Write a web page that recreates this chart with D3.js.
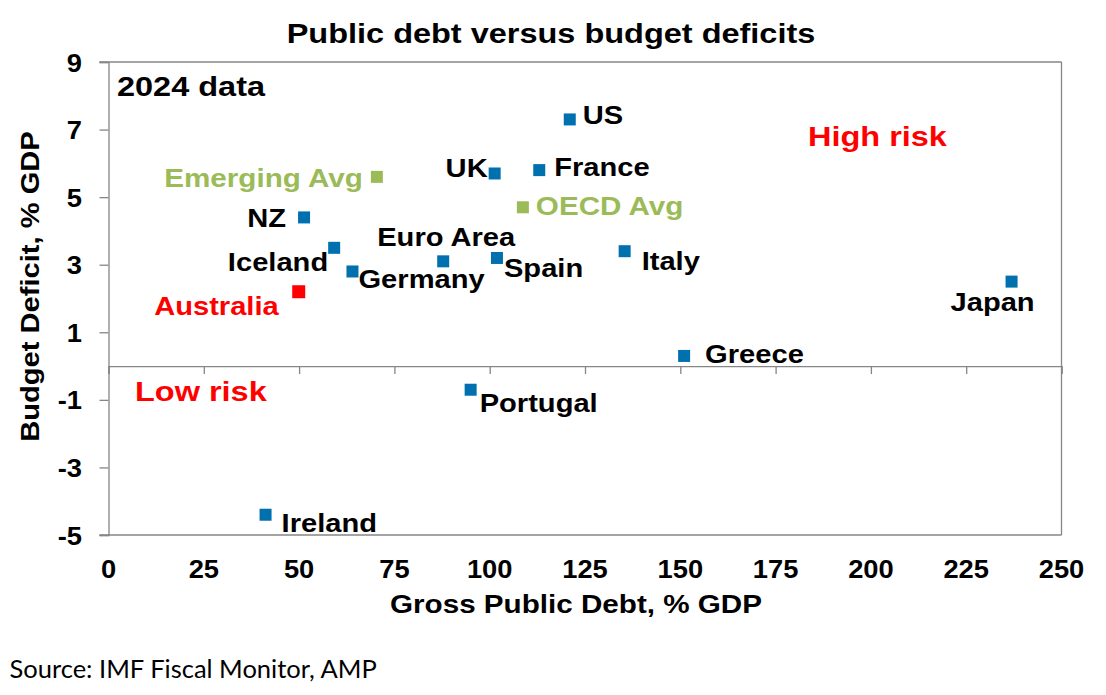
<!DOCTYPE html>
<html>
<head>
<meta charset="utf-8">
<script src="https://cdn.jsdelivr.net/npm/d3@7/dist/d3.min.js"></script>
<style>
  html, body { margin: 0; padding: 0; background: #fff; }
  svg { display: block; }
  text { font-family: "Liberation Sans", Arial, sans-serif; }
</style>
</head>
<body>
<svg id="chart" width="1106" height="695"></svg>
<script>
// ---- Data ----
const countries = ["US", "France", "UK", "OECD Avg", "Italy", "Spain", "Euro Area", "Japan",
                   "Greece", "Iceland", "Germany", "Australia", "Portugal", "NZ", "Emerging Avg", "Ireland"];
const grossDebt = [121, 113, 101.3, 108.7, 135.4, 101.9, 87.8, 236.9,
                   151, 59.2, 64, 49.9, 95, 51.3, 70.4, 41.2];
const budgetDeficit = [7.3, 5.8, 5.7, 4.7, 3.4, 3.2, 3.1, 2.5,
                       0.3, 3.5, 2.8, 2.2, -0.7, 4.4, 5.6, -4.4];
const groups = ["country", "country", "country", "average", "country", "country", "country", "country",
                "country", "country", "country", "australia", "country", "country", "average", "country"];
const xTicks = [0, 25, 50, 75, 100, 125, 150, 175, 200, 225, 250];
const yTicks = [-5, -3, -1, 1, 3, 5, 7, 9];

const chartTitle = "Public debt versus budget deficits";
const xTitle = "Gross Public Debt, % GDP";
const yTitle = "Budget Deficit, % GDP";
const sourceText = "Source: IMF Fiscal Monitor, AMP";

// ---- Styling / label placement ----
const colors = { country: "#0070AE", average: "#9BBB59", australia: "#FF0000" };
const labelColors = { country: "#000", average: "#9BBB59", australia: "#FF0000" };
const labelPos = {
  "US": ["start", 13, 5], "France": ["start", 15, 6], "UK": ["end", -7, 4],
  "OECD Avg": ["start", 13, 8], "Italy": ["start", 17, 19], "Spain": ["start", 7, 19],
  "Euro Area": ["middle", 3, -15], "Japan": ["middle", -19, 29], "Greece": ["start", 21, 7],
  "Iceland": ["end", -6, 23], "Germany": ["start", 6, 17], "Australia": ["end", -20, 23],
  "Portugal": ["start", 9, 22], "NZ": ["end", -18, 10], "Emerging Avg": ["end", -14, 10],
  "Ireland": ["start", 16, 17.5]
};

const svg = d3.select("#chart");
const pLeft = 108.5, pRight = 1061.5, pTop = 62, pBottom = 535;
const x = d3.scaleLinear().domain([0, 250]).range([pLeft, pRight]);
const y = d3.scaleLinear().domain([-5, 9]).range([pBottom, pTop]);
const axisColor = "#868686";

function stretchedText(g, tx, ty, str, opts) {
  const sx = opts.sx || 1.12;
  const rot = opts.rotate ? ` rotate(${opts.rotate})` : "";
  return g.append("text")
    .attr("transform", `translate(${tx},${ty})${rot} scale(${sx},1)`)
    .attr("text-anchor", opts.anchor || "start")
    .attr("font-size", opts.size || 26)
    .attr("font-weight", opts.weight || "bold")
    .attr("fill", opts.fill || "#000")
    .style("font-family", opts.family || null)
    .text(str);
}

// Plot frame
svg.append("line").attr("x1", pLeft - 9).attr("x2", pRight).attr("y1", pTop).attr("y2", pTop)
  .attr("stroke", axisColor).attr("stroke-width", 1.3);
svg.append("line").attr("x1", pRight).attr("x2", pRight).attr("y1", pTop).attr("y2", pBottom)
  .attr("stroke", axisColor).attr("stroke-width", 1.3);
svg.append("line").attr("x1", pLeft - 9).attr("x2", pRight).attr("y1", pBottom).attr("y2", pBottom)
  .attr("stroke", axisColor).attr("stroke-width", 1.3);

// Y axis (left)
const yAxis = d3.axisLeft(y).tickValues(yTicks).tickSize(9).tickFormat("");
const yg = svg.append("g").attr("transform", `translate(${pLeft},0)`).call(yAxis);
yg.select(".domain").attr("stroke", axisColor).attr("stroke-width", 1.3);
yg.selectAll(".tick line").attr("stroke", axisColor).attr("stroke-width", 1.3);
yTicks.forEach(v => stretchedText(svg, 82, y(v) + 9.5, String(v), { anchor: "end", size: 26, sx: 1.05 }));

// X axis at zero
const xAxis = d3.axisBottom(x).tickValues(xTicks).tickSize(8).tickFormat("");
const xg = svg.append("g").attr("transform", `translate(0,${y(0)})`).call(xAxis);
xg.select(".domain").attr("stroke", axisColor).attr("stroke-width", 1.3);
xg.selectAll(".tick line").attr("stroke", axisColor).attr("stroke-width", 1.3);
xTicks.forEach(v => stretchedText(svg, x(v), 578, String(v), { anchor: "middle", size: 26, sx: 1.05 }));

// Titles
stretchedText(svg, 551, 43, chartTitle, { anchor: "middle", size: 28, sx: 1.16 });
stretchedText(svg, 576, 613, xTitle, { anchor: "middle", size: 26, sx: 1.14 });
stretchedText(svg, 39, 286.5, yTitle, { anchor: "middle", size: 26, sx: 1.12, rotate: -90 });
stretchedText(svg, 9.5, 678, sourceText, { size: 25.5, weight: "normal", sx: 1.0, family: "Lato, 'Open Sans', sans-serif" });

// Annotations
stretchedText(svg, 117, 96, "2024 data", { size: 28, sx: 1.16 });
stretchedText(svg, 808, 146, "High risk", { size: 28, sx: 1.16, fill: "#FF0000" });
stretchedText(svg, 135, 401, "Low risk", { size: 28, sx: 1.16, fill: "#FF0000" });

// Points
const data = countries.map((c, i) => ({ name: c, x: grossDebt[i], y: budgetDeficit[i], group: groups[i] }));
svg.append("g").selectAll("rect").data(data).join("rect")
  .attr("x", d => x(d.x) - (d.group === "australia" ? 6.5 : 6))
  .attr("y", d => y(d.y) - (d.group === "australia" ? 6.5 : 6))
  .attr("width", d => d.group === "australia" ? 13 : 12)
  .attr("height", d => d.group === "australia" ? 13 : 12)
  .attr("fill", d => colors[d.group]);

// Labels
const lg = svg.append("g");
data.forEach(d => {
  const p = labelPos[d.name];
  stretchedText(lg, x(d.x) + p[1], y(d.y) + p[2], d.name,
    { anchor: p[0], size: 26, sx: d.group === "average" ? 1.14 : 1.12, fill: labelColors[d.group] });
});
</script>
</body>
</html>
